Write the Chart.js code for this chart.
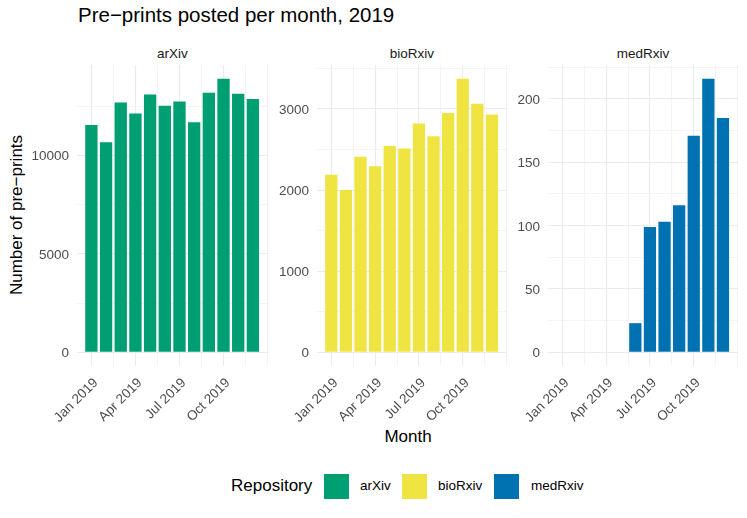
<!DOCTYPE html>
<html><head><meta charset="utf-8">
<script src="https://cdn.jsdelivr.net/npm/chart.js@4.4.0/dist/chart.umd.min.js"></script>
<style>
body{margin:0;width:747px;height:518px;background:#fff;position:relative;overflow:hidden;font-family:"Liberation Sans",Arial,sans-serif;}
.abs{position:absolute;white-space:nowrap;}
.panel{position:absolute;}
.strip{position:absolute;font-size:13.5px;color:#1a1a1a;text-align:center;top:46px;}
.sw{position:absolute;width:25px;height:25px;top:474px;}
.lt{position:absolute;font-size:13.5px;color:#000;top:478px;}
</style></head><body>
<div class="abs" style="left:78px;top:3px;font-size:20.5px;color:#000;">Pre−prints posted per month, 2019</div>
<div class="strip" style="left:77px;width:191px;">arXiv</div>
<div class="strip" style="left:317px;width:190px;">bioRxiv</div>
<div class="strip" style="left:548px;width:190px;">medRxiv</div>
<div class="abs" style="left:16.5px;top:215px;font-size:17px;color:#000;transform:translate(-50%,-50%) rotate(-90deg);">Number of pre−prints</div>
<div class="abs" style="left:408px;top:437px;font-size:17px;color:#000;transform:translate(-50%,-50%);">Month</div>
<div class="abs" style="left:231px;top:476px;font-size:17px;color:#000;">Repository</div>
<div class="sw" style="left:324px;background:#009E73;"></div>
<div class="lt" style="left:360px;">arXiv</div>
<div class="sw" style="left:402px;background:#F0E442;"></div>
<div class="lt" style="left:438px;">bioRxiv</div>
<div class="sw" style="left:494px;background:#0072B2;"></div>
<div class="lt" style="left:531px;">medRxiv</div>

<div class="panel" style="left:29px;top:65px;width:239px;height:371px;"><canvas id="c1"></canvas></div>
<div class="panel" style="left:269px;top:65px;width:238px;height:371px;"><canvas id="c2"></canvas></div>
<div class="panel" style="left:500px;top:65px;width:238px;height:371px;"><canvas id="c3"></canvas></div>

<script>
// ---- data ----
const monthIndex = [0,1,2,3,4,5,6,7,8,9,10,11];
const monthNames = ["Jan 2019","Feb 2019","Mar 2019","Apr 2019","May 2019","Jun 2019","Jul 2019","Aug 2019","Sep 2019","Oct 2019","Nov 2019","Dec 2019"];
const xTickLabels = ["Jan 2019","Apr 2019","Jul 2019","Oct 2019"];
const arxivCounts = [11550,10670,12690,12130,13100,12530,12740,11690,13190,13900,13140,12870];
const biorxivCounts = [2190,2000,2410,2295,2545,2513,2820,2664,2951,3374,3066,2931];
const medrxivCounts = [null,null,null,null,null,23,99,103,116,171,216,185];
const arxivYTicks = [0,5000,10000];
const biorxivYTicks = [0,1000,2000,3000];
const medrxivYTicks = [0,50,100,150,200];

// ---- style ----
Chart.defaults.font.family = 'Liberation Sans, Arial, sans-serif';
Chart.defaults.font.size = 13.5;
const GRID = '#ebebeb';
const AXIS_W = 48, XAXIS_H = 70;

function makePanel(id, counts, color, yTicks){
  const yStep = yTicks[1] - yTicks[0];
  const vals = counts.filter(v => v !== null);
  const ymax = Math.max(...vals);
  const ymin = Math.min(0, ...vals);
  const span = ymax - ymin;
  new Chart(document.getElementById(id), {
    type: 'bar',
    data: {
      labels: monthNames,
      datasets: [{
        data: monthIndex.map((m,i) => ({x: m, y: counts[i]})),
        backgroundColor: color,
        borderWidth: 0,
        barPercentage: 0.84,
        categoryPercentage: 1.0
      }]
    },
    options: {
      responsive: true, maintainAspectRatio: false, animation: false,
      layout: {padding: 0},
      plugins: {legend: {display: false}, tooltip: {enabled: false}},
      scales: {
        x: {
          type: 'linear', min: -0.98, max: 12.03, offset: false,
          grid: {color: GRID, offset: false, drawTicks: false,
                 lineWidth: c => (c.tick && c.tick.value % 3 === 0 && c.tick.value < 12) ? 1.1 : 0.55},
          border: {display: false},
          afterBuildTicks: s => { const t = []; for (let v = 0; v <= 12; v += 1.5) t.push({value: v}); s.ticks = t; },
          afterFit: s => { s.height = XAXIS_H; s.paddingLeft = 0; s.paddingRight = 0; },
          ticks: {
            autoSkip: false, minRotation: 45, maxRotation: 45, padding: 9, labelOffset: 4.5,
            color: '#4d4d4d', font: {size: 13.5},
            callback: v => (v % 3 === 0 && v / 3 < xTickLabels.length) ? xTickLabels[v / 3] : ''
          }
        },
        y: {
          type: 'linear', min: ymin - 0.05 * span, max: ymax + 0.05 * span,
          grid: {color: GRID, drawTicks: false,
                 lineWidth: c => (c.tick && c.tick.value % yStep === 0) ? 1.1 : 0.55},
          border: {display: false},
          afterBuildTicks: s => { const t = []; for (let v = 0; v <= s.max; v += yStep / 2) t.push({value: v}); s.ticks = t; },
          afterFit: s => { s.width = AXIS_W; s.paddingTop = 0; s.paddingBottom = 0; },
          ticks: {
            padding: 8, labelOffset: 1.2, color: '#4d4d4d', font: {size: 13.5},
            callback: v => yTicks.includes(v) ? String(v) : ''
          }
        }
      }
    }
  });
}

makePanel('c1', arxivCounts, '#009E73', arxivYTicks);
makePanel('c2', biorxivCounts, '#F0E442', biorxivYTicks);
makePanel('c3', medrxivCounts, '#0072B2', medrxivYTicks);
</script>
</body></html>
